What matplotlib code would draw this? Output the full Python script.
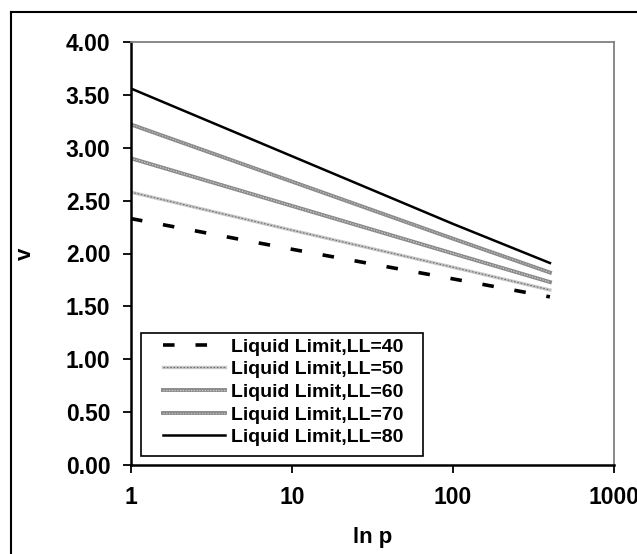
import matplotlib
matplotlib.use("Agg")
import matplotlib.pyplot as plt
from matplotlib.lines import Line2D
from matplotlib.patches import Rectangle

plt.rcParams['font.family'] = ['Liberation Sans', 'DejaVu Sans']
plt.rcParams['font.weight'] = 'bold'

# pressure points and specific volume per liquid limit
p = [1, 10, 100, 400]
v_ll40 = [2.33, 2.04, 1.76, 1.59]
v_ll50 = [2.58, 2.22, 1.87, 1.655]
v_ll60 = [2.90, 2.45, 2.00, 1.73]
v_ll70 = [3.22, 2.68, 2.14, 1.82]
v_ll80 = [3.56, 2.92, 2.28, 1.91]
labels = ['Liquid Limit,LL=40', 'Liquid Limit,LL=50', 'Liquid Limit,LL=60',
          'Liquid Limit,LL=70', 'Liquid Limit,LL=80']

W, H = 637, 554
fig = plt.figure(figsize=(W / 100, H / 100), dpi=100)

# outer frame (cut off at right and bottom)
fig.add_artist(Line2D([11 / W, 11 / W], [0, 1 - 12 / H], color='black', lw=1.5,
                      transform=fig.transFigure))
fig.add_artist(Line2D([11 / W, 1], [1 - 12 / H, 1 - 12 / H], color='black', lw=1.5,
                      transform=fig.transFigure))

ax = fig.add_axes([131 / W, 1 - 465 / H, (614 - 131) / W, (465 - 42) / H])

h40, = ax.plot(p, v_ll40, color='black', lw=2.6, dashes=(3.2, 5.8))
b50, = ax.plot(p, v_ll50, color='#c8c8c8', lw=2.4)
o50, = ax.plot(p, v_ll50, color='#707070', lw=0.8, dashes=(1.5, 1.5))
b60, = ax.plot(p, v_ll60, color='#8a8a8a', lw=2.8)
o60, = ax.plot(p, v_ll60, color='#d0d0d0', lw=0.9, dashes=(1, 1.2))
b70, = ax.plot(p, v_ll70, color='#8a8a8a', lw=2.8)
o70, = ax.plot(p, v_ll70, color='#c0c0c0', lw=0.9, dashes=(1, 1.2))
h80, = ax.plot(p, v_ll80, color='black', lw=1.8)

ax.set_xscale('log')
ax.set_xlim(1, 1000)
ax.set_ylim(0, 4)
ax.set_xticks([1, 10, 100, 1000])
ax.set_xticklabels(['1', '10', '100', '1000'])
ax.minorticks_off()
ax.set_yticks([0, 0.5, 1, 1.5, 2, 2.5, 3, 3.5, 4])
ax.set_yticklabels(['%.2f' % t for t in ax.get_yticks()])
ax.tick_params(direction='out', length=5.8, width=1.3, labelsize=16.5, pad=9,
               colors='black')

for s in ['left', 'bottom']:
    ax.spines[s].set_linewidth(1.8)
    ax.spines[s].set_color('black')
for s in ['top', 'right']:
    ax.spines[s].set_linewidth(1.3)
    ax.spines[s].set_color('#808080')

ax.set_xlabel('ln p', fontsize=16, fontweight='bold')
ax.xaxis.set_label_coords(0.5, (465 - 527) / 423)
ax.set_ylabel('v', fontsize=16, fontweight='bold', rotation=90)
ax.yaxis.set_label_coords((36 - 131) / 483, 0.5)

# legend box
ax.add_patch(Rectangle((141 / W, 1 - 456 / H), 282 / W, 123 / H,
                       transform=fig.transFigure, facecolor='white',
                       edgecolor='black', lw=1.2, zorder=4, clip_on=False))
leg = ax.legend([h40, (b50, o50), (b60, o60), (b70, o70), h80], labels,
                loc='upper left', bbox_to_anchor=(163 / W, 1 - 338 / H),
                bbox_transform=fig.transFigure, frameon=False,
                borderaxespad=0, borderpad=0,
                labelspacing=0.26, handlelength=3.2, handletextpad=0.3,
                prop={'weight': 'bold', 'size': 14})
leg.set_zorder(5)

fig.savefig('out.png', dpi=100, facecolor='white')
